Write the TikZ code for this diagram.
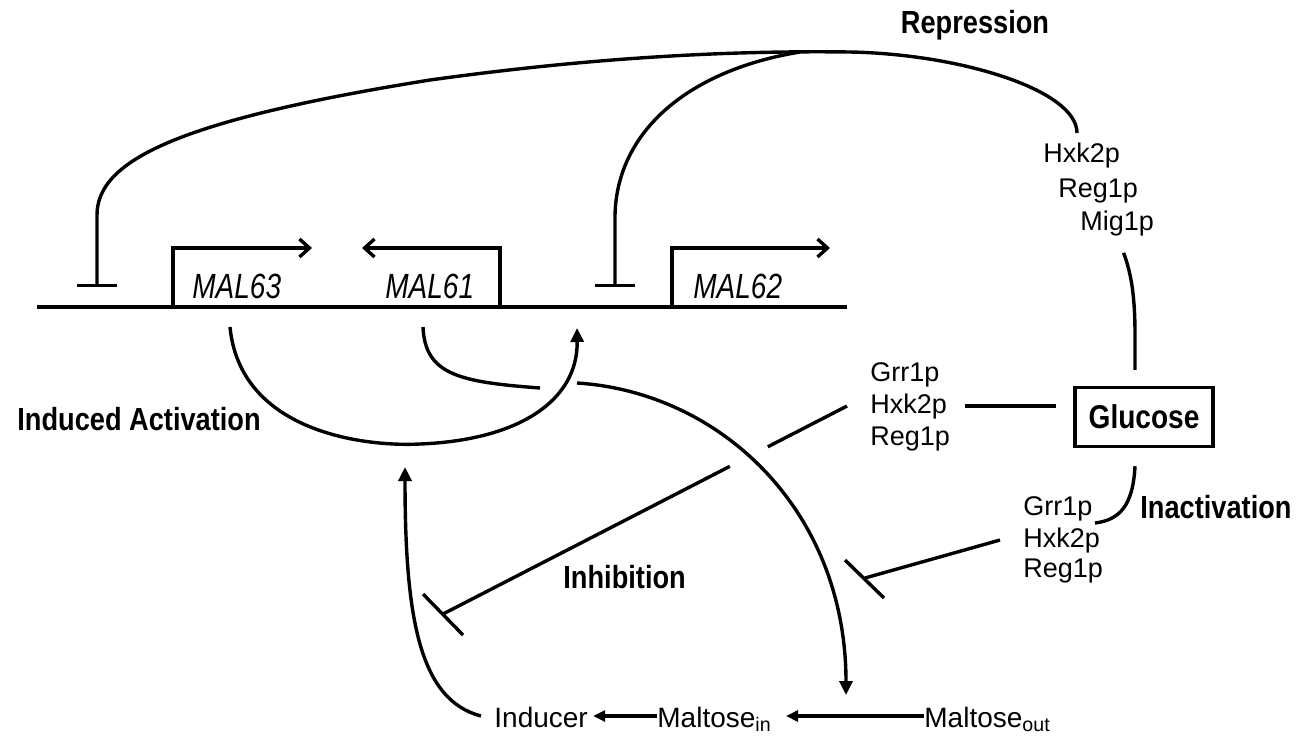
\documentclass[tikz,border=0pt]{standalone}
\usepackage{fontspec}
\setmainfont{Liberation Sans}
\newfontfamily\narrowsf[FakeStretch=0.85]{Liberation Sans}
\newfontfamily\genesf[FakeStretch=0.8]{Liberation Sans}
\usetikzlibrary{arrows.meta,calc}

\begin{document}
\begin{tikzpicture}[x=0.5pt, y=-0.5pt,
    wire/.style={black, line width=1.7pt},
    act/.style={wire, -{Triangle[length=7pt,width=6.5pt]}},
    prom/.style={wire, -{Straight Barb[length=5pt,width=9pt]}},
    repr/.style={wire, -{Bar[width=20pt]}},
    prot/.style={anchor=base west, inner sep=0pt, font=\fontsize{13.5}{15}\selectfont},
    lab/.style={anchor=base west, inner sep=0pt, font=\narrowsf\bfseries\fontsize{16}{18}\selectfont},
    gene/.style={anchor=base west, inner sep=0pt, font=\genesf\itshape\fontsize{17.5}{19}\selectfont},
    sugar/.style={anchor=base west, inner sep=0pt, text height=11pt, text depth=0pt, font=\fontsize{14}{16}\selectfont}]
    \useasboundingbox (0,0) rectangle (1305,740);
    % DNA with the three genes
        \draw[wire, line width=2pt] (37,307) -- (847,307);
        \draw[prom] (173,307) -- (173,248) -- (312,248);
        \draw[prom] (500,307) -- (500,248) -- (362,248);
        \draw[prom] (672,307) -- (672,248) -- (830,248);
        \node[gene] (mal63) at (192,298) {MAL63};
        \node[gene] (mal61) at (385,298) {MAL61};
        \node[gene] (mal62) at (693,298) {MAL62};
    % Below nodes are the labels.
        \node[lab, anchor=base] (repression) at (975,33) {Repression};
        \node[lab] (induced) at (17,430) {Induced Activation};
        \node[lab] (inhibition) at (563,588) {Inhibition};
        \node[lab] (inactivation) at (1140,518) {Inactivation};
        \node[prot] (hxkA) at (1043,162) {Hxk2p};
        \node[prot] (regA) at (1058,197) {Reg1p};
        \node[prot] (migA) at (1080,230) {Mig1p};
        \node[prot] (grrB) at (870,381) {Grr1p};
        \node[prot] (hxkB) at (870,413) {Hxk2p};
        \node[prot] (regB) at (870,445) {Reg1p};
        \node[prot] (grrC) at (1023,515) {Grr1p};
        \node[prot] (hxkC) at (1023,547) {Hxk2p};
        \node[prot] (regC) at (1023,577) {Reg1p};
        \node[draw, line width=1.7pt, inner sep=0pt, minimum width=69pt, minimum height=29.5pt,
            font=\narrowsf\bfseries\fontsize{16.5}{18}\selectfont] (glucose) at (1144,417) {Glucose};
        \node[sugar] (inducer) at (494,727) {Inducer};
        \node[sugar] (maltin) at (657,727) {Maltose\textsubscript{in}};
        \node[sugar] (maltout) at (924,727) {Maltose\textsubscript{out}};
    % Repression by glucose.
        \draw[repr] (1077,133) .. controls (1077,90) and (960,54) .. (850,52)
            .. controls (700,50) and (560,62) .. (430,80)
            .. controls (180,120) and (97,160) .. (97,215) -- (97,287);
        \draw[repr] (800,52) .. controls (690,70) and (617,130) .. (615,215) -- (615,287);
    % Glucose connections.
        \coordinate (gW) at ([xshift=-8.5pt]glucose.west);
        \draw[wire, shorten <=9pt] (migA.south) .. controls (1132,275) and (1135,300) .. (1135,335)
            -- ([shift={(-4.5pt,8pt)}]glucose.north);
        \draw[wire] ([xshift=9pt]hxkB.east) -- (gW |- hxkB.east);
        \draw[wire] ([shift={(-4.5pt,-9pt)}]glucose.south) .. controls (1133,505) and (1120,520) .. (1095,523);
    % Inactivation of the permease.
        \draw[wire] ([xshift=-11.5pt]hxkC.west) -- (865,578);
        \draw[wire] (845,560) -- (884,598);
    % Inhibition of induction, broken where the transport arrow crosses it.
        \coordinate (inhS) at ([xshift=-11.5pt]hxkB.west);
        \coordinate (inhE) at (443,614);
        \draw[wire] (inhS) -- ($(inhS)!0.196!(inhE)$);
        \draw[wire] ($(inhS)!0.29!(inhE)$) -- (inhE);
        \draw[wire] (423,594) -- (463,635);
    % Permease from MAL61 to the maltose uptake.
        \draw[wire] (423,327) .. controls (425,375) and (460,382) .. (540,388);
        \draw[act] (577,383) .. controls (720,392) and (846,510) .. (846,695);
    % Activator from MAL63 back to the promoters.
        \draw[act] (230,327) .. controls (240,430) and (360,447) .. (420,444)
            .. controls (520,440) and (578,400) .. (577,328);
        \draw[act] ([xshift=-6.5pt]inducer.west) .. controls (420,700) and (405,620) .. (405,467);
    % Maltose uptake and conversion.
        \draw[wire, -{Triangle[length=6pt,width=5.5pt]}, shorten >=2.5pt] (maltin.west) -- (inducer.east);
        \draw[wire, -{Triangle[length=6pt,width=5.5pt]}, shorten >=7pt] (maltout.west) -- (maltin.east);
\end{tikzpicture}
\end{document}
